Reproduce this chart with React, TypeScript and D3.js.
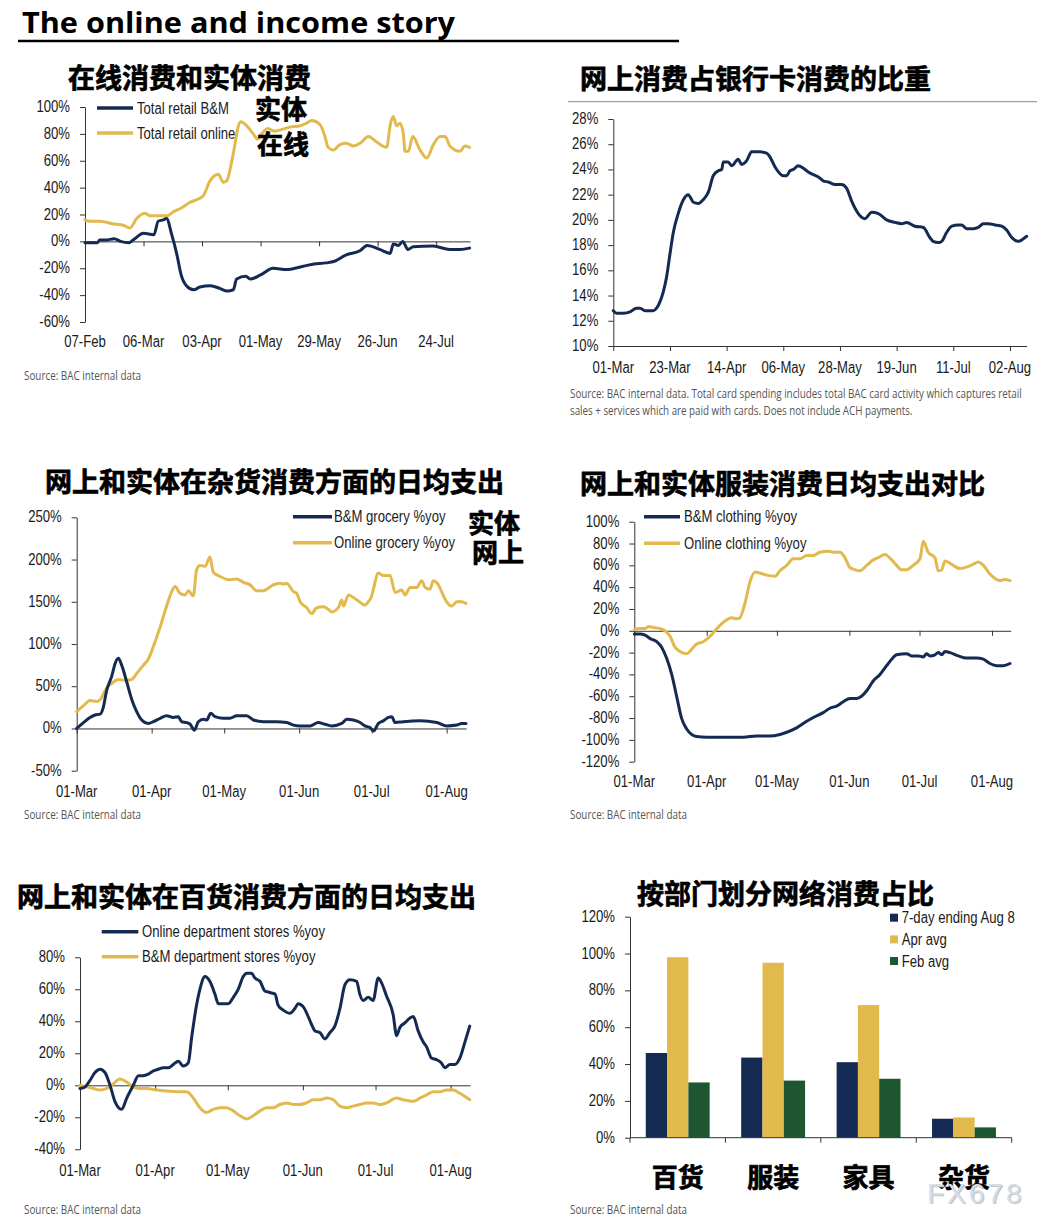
import React, { useEffect, useRef } from 'react';
import * as d3 from 'd3';

type Pt = [number, number];

const NAVY = '#142a52';
const GOLD = '#e1b94c';
const GREEN = '#1f5632';

// ---- panel 1: total retail, days since 07-Feb
const retailDayTicks = [0, 28, 56, 84, 112, 140, 168];
const retailDayLabels = ['07-Feb', '06-Mar', '03-Apr', '01-May', '29-May', '26-Jun', '24-Jul'];
const retailBM: Pt[] = [
  [0, -1], [6, -1], [7, 1], [10, 1], [14, 2], [17, 0], [21, -1], [23, 1], [28, 6], [33, 5], [35, 15],
  [37.5, 16], [39, 17], [41.5, 5], [44, -10], [46, -25], [48.5, -33], [52, -36], [55, -34], [60, -33],
  [64.5, -35], [68, -37], [71, -36], [72.5, -28], [77, -26], [79, -28], [84, -25], [90, -20], [96.5, -21],
  [103, -19], [109, -17], [115.5, -16], [119, -15], [125, -10], [131.5, -7], [135, -3], [141, -6], [146, -9],
  [147.5, -2], [150, -3], [152, 0], [154.5, -6], [157, -4], [166.5, -3.5], [174.5, -6], [179.5, -6], [184, -5]
];
const retailOnline: Pt[] = [
  [0, 16], [2.4, 15], [7.2, 15], [13.6, 13], [18.3, 12], [21.5, 10], [24.7, 17], [28.7, 21], [31.1, 19],
  [34.3, 19], [39.1, 19], [42.3, 22], [46.3, 25], [50.2, 29], [53.4, 31], [56.6, 34], [59.8, 45], [63.8, 50],
  [66.2, 44], [67.8, 45], [70, 58], [71.5, 70], [73.4, 86], [74.5, 89], [77.4, 86], [80.5, 80], [82.5, 76],
  [84.5, 80], [87.5, 84], [90.5, 82], [93.5, 83], [98, 85], [103, 86], [106, 88], [108.5, 90], [112.4, 87],
  [114.8, 78], [116.3, 70], [118.8, 68], [122, 72], [125, 73], [128.4, 71], [131.6, 73], [135.6, 78],
  [139.5, 74], [144.3, 70], [146.2, 88], [147.5, 93], [149.1, 86], [150.7, 88], [152.3, 80], [153.1, 67],
  [154.7, 67], [156.8, 78], [160.3, 68], [163.5, 62], [166.7, 72], [169.9, 78], [172.3, 78], [174.6, 71],
  [179.4, 67], [181.8, 71], [184, 70]
];

// ---- panel 2: online share of card spending, days since 01-Mar
const shareDayTicks = [0, 22, 44, 66, 88, 110, 132, 154];
const shareDayLabels = ['01-Mar', '23-Mar', '14-Apr', '06-May', '28-May', '19-Jun', '11-Jul', '02-Aug'];
const onlineShare: Pt[] = [
  [0, 12.8], [1.3, 12.6], [3.9, 12.6], [6.5, 12.7], [9, 13.0], [10.4, 13.0], [12.3, 12.8], [15.5, 12.8],
  [16.8, 13.0], [18.1, 13.5], [19.4, 14.3], [20.7, 15.5], [22, 17.3], [23.3, 19.0], [25.2, 20.5], [27.2, 21.6],
  [29.1, 22.0], [31.1, 21.4], [33, 21.3], [34.9, 21.6], [36.9, 22.2], [38.8, 23.5], [40.8, 23.9], [42.1, 24.0],
  [42.7, 24.6], [44.6, 24.6], [45.9, 24.3], [48.5, 24.8], [49.8, 24.4], [51.8, 24.7], [53.7, 25.4], [56.9, 25.4],
  [59.5, 25.3], [60.8, 25.0], [62.8, 24.2], [66, 23.5], [67.3, 23.5], [68.6, 23.9], [69.9, 24.0], [71.8, 24.3],
  [73.8, 24.1], [75.7, 23.8], [77.6, 23.6], [79.6, 23.4], [81.5, 23.1], [83.5, 23.0], [86.1, 22.8], [88.6, 22.8],
  [90.6, 22.5], [92.5, 21.5], [95.1, 20.5], [97.7, 20.1], [100.3, 20.6], [102.9, 20.5], [106.1, 20.0],
  [109.4, 19.8], [111.9, 19.7], [113.9, 19.8], [117.1, 19.5], [120.4, 19.4], [122.9, 18.6], [124.2, 18.3],
  [126.2, 18.2], [127.5, 18.3], [129.4, 19.0], [131.4, 19.5], [134, 19.6], [135.2, 19.6], [137.2, 19.3],
  [139.8, 19.3], [141.7, 19.4], [143.7, 19.7], [145.6, 19.7], [148.2, 19.6], [150.8, 19.5], [152.7, 19.2],
  [154.7, 18.6], [157.2, 18.3], [159.2, 18.5], [160.5, 18.7]
];

// ---- panels 3-5: days since 01-Mar
const monthTicks = [0, 31, 61, 92, 122, 153];
const monthLabels = ['01-Mar', '01-Apr', '01-May', '01-Jun', '01-Jul', '01-Aug'];

const groceryBM: Pt[] = [
  [0, 0], [2.8, 7], [5.5, 13], [7.6, 16], [9.7, 17], [11, 25], [12.4, 45], [14.5, 62], [15.9, 77], [17.2, 83],
  [18.6, 75], [20.7, 55], [22.7, 35], [24.8, 20], [26.9, 10], [29.6, 6], [31.7, 8], [34.5, 12], [37.2, 15],
  [40, 13], [42, 14], [43.4, 8], [45.5, 7], [46.9, 5], [48.7, -2], [50.3, 8], [52.4, 11], [53.8, 10], [55.4, 18],
  [57.2, 14], [60.7, 12], [63.4, 12], [66.2, 15], [70.3, 15], [73.1, 10], [77.2, 8], [82.7, 8], [86.9, 7],
  [89.6, 4], [92.4, 3], [96.5, 3], [99.9, 7], [102.7, 5], [105.5, 3], [109.6, 6], [111.7, 11], [114.4, 10],
  [117.2, 7], [119.2, 3], [121.3, 1], [122.7, -3], [124.8, 6], [126.8, 9], [128.9, 13], [130.3, 14], [131.7, 7],
  [135.1, 8], [142, 9], [148.9, 7], [153, 3], [157.2, 4], [159.2, 6], [161, 6]
];
const groceryOnline: Pt[] = [
  [0, 20], [2.8, 27], [5.5, 33], [8.3, 32], [9.7, 34], [12.4, 48], [15.2, 55], [17.2, 58], [20, 57], [22.7, 58],
  [24.8, 65], [27.6, 75], [29.6, 82], [31.7, 97], [34.5, 120], [37.2, 145], [39.3, 162], [40.7, 168], [42.7, 160],
  [44.8, 158], [46.2, 163], [48.2, 157], [49.6, 188], [51, 193], [53.1, 192], [55.1, 203], [56.5, 185],
  [59.3, 180], [63.4, 176], [66.2, 177], [68.9, 173], [71.7, 170], [74.4, 163], [77.2, 163], [78.6, 165],
  [81.3, 170], [84.1, 172], [85.5, 171], [86.8, 172], [89.6, 162], [91, 160], [92.4, 150], [95.1, 143],
  [97.2, 136], [99.3, 143], [102, 144], [104.1, 141], [105.5, 138], [108.2, 143], [109.6, 152], [110.3, 145],
  [112.4, 158], [114.4, 155], [116.5, 151], [119.2, 146], [120.6, 150], [122, 157], [122.7, 165], [124.8, 184],
  [126.8, 181], [129.6, 181], [131.7, 161], [134.4, 164], [135.8, 158], [137.9, 167], [140.6, 167], [142.7, 175],
  [144.1, 167], [146.1, 165], [147.5, 175], [149.6, 170], [150.9, 162], [153, 150], [155.1, 145], [157.2, 150],
  [159.2, 150], [161, 148]
];

const clothingBM: Pt[] = [
  [0, -3], [2.4, -3], [4.6, -4], [6.7, -7], [9.6, -10], [11.7, -15], [13.8, -25], [16, -40], [18.1, -60],
  [20.2, -80], [22.4, -90], [24.5, -95], [26.7, -97], [30.9, -97.5], [40.9, -97.5], [46.6, -97.5], [52.3, -96.5],
  [58, -96.5], [62.3, -95], [65.2, -93], [69.4, -89], [73.7, -83], [78, -78], [80.8, -75], [83.7, -71],
  [86.5, -69], [89.4, -65], [92.2, -62], [95.1, -62], [97.2, -60], [99.4, -55], [102.2, -46], [105.1, -40],
  [107.9, -32], [110.1, -26], [112.2, -22], [116.5, -21], [118.6, -23], [121.5, -23], [123.6, -24], [125, -21],
  [126.5, -23], [128.6, -22], [130, -20], [131.5, -22], [132.9, -19], [135, -20], [138.6, -23], [142.1, -25],
  [146.4, -25], [149.3, -26], [152.1, -30], [155, -32], [157.8, -32], [160.7, -30]
];
const clothingOnline: Pt[] = [
  [0, 1], [2.4, 2], [4.6, 2], [6, 4], [8.1, 3], [11, 2], [13.1, 0], [15.3, -5], [17.4, -15], [19.5, -19],
  [22.4, -21], [24.5, -17], [26.7, -12], [29.5, -10], [32.4, -5], [34.5, 0], [36.6, 5], [39.5, 10], [41.6, 12],
  [43.8, 11], [45.2, 12], [47.3, 25], [49.5, 45], [51.6, 54], [53.7, 53], [56.6, 51], [60.2, 50], [62.3, 55],
  [65.2, 60], [68, 66], [70.9, 66], [73.7, 69], [76.6, 69], [79.4, 72], [83, 73], [85.1, 72], [88, 72],
  [90.1, 67], [92.2, 58], [94.4, 56], [96.5, 55], [99.4, 60], [102.2, 65], [104.4, 67], [107.2, 70], [110.1, 65],
  [112.2, 60], [114.3, 56], [116.5, 56], [119.3, 60], [122.2, 66], [123.6, 82], [125.7, 72], [128.6, 67],
  [130, 55], [131.5, 56], [132.9, 64], [136.4, 60], [139.3, 57], [142.9, 59], [145, 61], [147.1, 63],
  [149.3, 60], [152.1, 52], [154.3, 48], [156.4, 46], [158.5, 47], [160.7, 46]
];

const deptOnline: Pt[] = [
  [0, -2], [2.1, -1], [4.1, 3], [6.2, 8], [8.3, 10], [10.3, 8], [12.4, 0], [14.4, -10], [17.2, -15], [19.3, -8],
  [22, 0], [24.1, 6], [26.1, 6], [28.2, 7], [30.3, 9], [32.3, 10], [34.4, 11], [36.5, 11], [38.5, 13], [40.6, 15],
  [42.6, 12], [44.7, 14], [46.1, 30], [48.1, 50], [49.5, 60], [51.6, 68], [53.6, 65], [55.7, 57], [57.1, 51],
  [59.1, 51], [61.2, 51], [63.3, 55], [65.3, 60], [67.4, 68], [68.8, 70], [70.8, 70], [72.2, 67], [74.3, 65],
  [76.3, 59], [78.4, 58], [80.5, 57], [81.8, 50], [83.9, 47], [86.7, 45], [88.7, 48], [90.1, 51], [92.2, 49],
  [94.2, 43], [95.6, 38], [97, 34], [99, 33], [101.1, 29], [103.2, 33], [105.2, 37], [107.3, 48], [109.4, 63],
  [111.4, 66], [114.2, 65], [115.5, 57], [116.9, 53], [119, 55], [121, 53], [123.1, 67], [124.5, 64],
  [126.5, 56], [129.3, 44], [130.7, 31], [132, 36], [134.1, 39], [136.2, 42], [137.6, 43], [139.6, 34],
  [141.7, 27], [143.1, 24], [145.1, 17], [147.2, 16], [149.2, 14], [150.6, 11], [152.7, 13], [154.7, 13],
  [156.8, 17], [158.9, 27], [160.9, 37]
];
const deptBM: Pt[] = [
  [0, 0], [2.8, -1], [5.5, -2], [8.3, -3], [11, -2], [13.8, 1], [16.5, 4], [19.3, 2], [22, -1], [24.8, -2],
  [27.5, -2], [31.6, -3], [35.8, -3.5], [39.9, -4], [44, -4], [46.8, -8], [49.5, -14], [52.3, -17], [55, -15],
  [57.8, -14], [60.5, -14], [63.3, -16], [66, -19], [68.8, -21], [71.5, -19], [74.3, -16], [77, -14],
  [79.8, -14], [82.5, -12], [85.3, -11], [88, -12], [90.8, -12], [93.5, -11], [96.3, -9], [99, -9], [101.8, -8],
  [104.5, -9], [107.3, -13], [110, -14], [112.8, -13], [115.5, -12], [118.3, -11], [121, -11], [123.8, -12],
  [126.5, -11], [130.7, -8], [133.4, -9], [137.6, -10], [140.3, -8], [143.1, -6], [145.8, -4], [148.6, -4],
  [151.3, -3], [154.1, -3], [156.8, -5], [158.9, -7], [160.9, -9]
];

// ---- panel 6: online share by department
const departments = ['百货', '服装', '家具', '杂货'];
const barSeries = ['7-day ending Aug 8', 'Apr avg', 'Feb avg'];
const barColors = [NAVY, GOLD, GREEN];
const sevenDayShare = [46, 43.5, 41, 10.3];
const aprAvgShare = [98, 95, 72, 11];
const febAvgShare = [30, 31, 32, 5.6];

const SOURCE = 'Source: BAC internal data';
const SOURCE_P2 = [
  'Source: BAC internal data. Total card spending includes total BAC card activity which captures retail',
  'sales + services which are paid with cards. Does not include ACH payments.'
];

type Sel = d3.Selection<any, unknown, null, undefined>;

const NARROW = 'Liberation Sans, Arial, sans-serif';
const CJK = '"Noto Sans CJK SC", sans-serif';

// Arial-Narrow look: regular sans squeezed horizontally
const narrow = (g: Sel, x: number, y: number, s: string, anchor = 'start', size = 16, fill = '#1a1a1a') =>
  g.append('text')
    .attr('transform', `translate(${x},${y}) scale(0.82,1)`)
    .attr('text-anchor', anchor)
    .attr('font-family', NARROW)
    .attr('font-size', size)
    .attr('fill', fill)
    .text(s);

const cjk = (g: Sel, x: number, y: number, s: string, size = 27, anchor = 'start') =>
  g.append('text')
    .attr('x', x).attr('y', y)
    .attr('text-anchor', anchor)
    .attr('font-family', CJK)
    .attr('font-weight', 700)
    .attr('font-size', size)
    .attr('fill', '#000')
    .attr('stroke', '#000')
    .attr('stroke-width', 0.7)
    .text(s);

// condensed source note: measure, then squeeze to the width seen in the picture
const source = (g: Sel, x: number, y: number, s: string, len: number) => {
  const t = g.append('text')
    .attr('transform', `translate(${x},${y})`)
    .attr('font-family', '"Open Sans", sans-serif')
    .attr('font-size', 12.5)
    .attr('fill', '#555')
    .text(s);
  const natural = (t.node() as SVGTextElement).getComputedTextLength() || len;
  t.attr('transform', `translate(${x},${y}) scale(${len / natural},1)`);
};

interface LinePanel {
  title: string; titleX: number; titleY: number;
  xRange: [number, number]; xMax: number;
  yRange: [number, number]; yDomain: [number, number]; yStep: number;
  base: number; xTicks: number[]; xLabels: string[]; labelY: number;
  series: { data: Pt[]; color: string }[];
  legend?: { x0: number; x1: number; ys: number[]; tx: number; labels: string[]; colors: string[] };
  notes?: { x: number; y: number; s: string }[];
}

const drawLinePanel = (svg: Sel, p: LinePanel) => {
  const g = svg.append('g');
  const x = d3.scaleLinear().domain([0, p.xMax]).range(p.xRange);
  const y = d3.scaleLinear().domain(p.yDomain).range(p.yRange);
  const yTicks = d3.range(p.yDomain[0], p.yDomain[1] + p.yStep / 2, p.yStep);

  cjk(g, p.titleX, p.titleY, p.title);

  const yAxis = g.append('g')
    .attr('transform', `translate(${p.xRange[0]},0)`)
    .call(d3.axisLeft(y).tickValues(yTicks).tickSize(5).tickSizeOuter(0).tickFormat(() => ''));
  yAxis.selectAll('path,line').attr('stroke', '#333');
  yTicks.forEach(t => narrow(g, p.xRange[0] - 15, y(t) + 5, `${t}%`, 'end'));

  const xAxis = g.append('g')
    .attr('transform', `translate(0,${y(p.base)})`)
    .call(d3.axisBottom(x).tickValues(p.xTicks).tickSize(5).tickSizeOuter(0).tickFormat(() => ''));
  xAxis.selectAll('path,line').attr('stroke', '#333');
  p.xTicks.forEach((t, i) => narrow(g, x(t), p.labelY, p.xLabels[i], 'middle'));

  const line = d3.line<Pt>().x(d => x(d[0])).y(d => y(d[1])).curve(d3.curveMonotoneX);
  p.series.forEach(s => {
    g.append('path')
      .attr('d', line(s.data))
      .attr('fill', 'none')
      .attr('stroke', s.color)
      .attr('stroke-width', 3)
      .attr('stroke-linejoin', 'round')
      .attr('stroke-linecap', 'round');
  });

  if (p.legend) {
    const L = p.legend;
    L.labels.forEach((lab, i) => {
      g.append('line')
        .attr('x1', L.x0).attr('x2', L.x1).attr('y1', L.ys[i]).attr('y2', L.ys[i])
        .attr('stroke', L.colors[i]).attr('stroke-width', 3.5);
      narrow(g, L.tx, L.ys[i] + 5.5, lab);
    });
  }
  (p.notes || []).forEach(n => cjk(g, n.x, n.y, n.s, 26));
};

const linePanels: LinePanel[] = [
  {
    title: '在线消费和实体消费', titleX: 68, titleY: 88,
    xRange: [85, 470], xMax: 184.2, yRange: [322, 107], yDomain: [-60, 100], yStep: 20,
    base: 0, xTicks: retailDayTicks, xLabels: retailDayLabels, labelY: 347,
    series: [{ data: retailOnline, color: GOLD }, { data: retailBM, color: NAVY }],
    legend: { x0: 97, x1: 133, ys: [108, 133], tx: 137, labels: ['Total retail B&M', 'Total retail online'], colors: [NAVY, GOLD] },
    notes: [{ x: 255, y: 119, s: '实体' }, { x: 257, y: 154, s: '在线' }]
  },
  {
    title: '网上消费占银行卡消费的比重', titleX: 580, titleY: 89,
    xRange: [613.3, 1026.7], xMax: 160.5, yRange: [346, 119], yDomain: [10, 28], yStep: 2,
    base: 10, xTicks: shareDayTicks, xLabels: shareDayLabels, labelY: 373,
    series: [{ data: onlineShare, color: NAVY }]
  },
  {
    title: '网上和实体在杂货消费方面的日均支出', titleX: 45, titleY: 492,
    xRange: [76.7, 466], xMax: 161, yRange: [770.7, 517.3], yDomain: [-50, 250], yStep: 50,
    base: 0, xTicks: monthTicks, xLabels: monthLabels, labelY: 797,
    series: [{ data: groceryOnline, color: GOLD }, { data: groceryBM, color: NAVY }],
    legend: { x0: 293, x1: 332, ys: [516.7, 542.7], tx: 334, labels: ['B&M grocery %yoy', 'Online grocery %yoy'], colors: [NAVY, GOLD] },
    notes: [{ x: 468, y: 533, s: '实体' }, { x: 472, y: 562, s: '网上' }]
  },
  {
    title: '网上和实体服装消费日均支出对比', titleX: 580, titleY: 494,
    xRange: [634.3, 1010.7], xMax: 161, yRange: [761.7, 521.7], yDomain: [-120, 100], yStep: 20,
    base: 0, xTicks: monthTicks, xLabels: monthLabels, labelY: 787,
    series: [{ data: clothingOnline, color: GOLD }, { data: clothingBM, color: NAVY }],
    legend: { x0: 644, x1: 680, ys: [516.7, 543.3], tx: 684, labels: ['B&M clothing %yoy', 'Online clothing %yoy'], colors: [NAVY, GOLD] }
  },
  {
    title: '网上和实体在百货消费方面的日均支出', titleX: 17, titleY: 907,
    xRange: [80, 470], xMax: 161, yRange: [1149.3, 957.3], yDomain: [-40, 80], yStep: 20,
    base: 0, xTicks: monthTicks, xLabels: monthLabels, labelY: 1176,
    series: [{ data: deptBM, color: GOLD }, { data: deptOnline, color: NAVY }],
    legend: { x0: 101.7, x1: 138.3, ys: [931.7, 956.7], tx: 142, labels: ['Online department stores %yoy', 'B&M department stores %yoy'], colors: [NAVY, GOLD] }
  }
];

const drawBarPanel = (svg: Sel) => {
  const g = svg.append('g');
  const x0 = d3.scaleBand<string>().domain(departments).range([630, 1011.7]);
  const x1 = d3.scaleBand<string>().domain(barSeries).range([0, x0.bandwidth()]).paddingOuter(0.74);
  const y = d3.scaleLinear().domain([0, 120]).range([1137.7, 916.7]);
  const values = [sevenDayShare, aprAvgShare, febAvgShare];

  cjk(g, 637, 904, '按部门划分网络消费占比');

  departments.forEach((dep, i) => {
    barSeries.forEach((s, j) => {
      g.append('rect')
        .attr('x', (x0(dep) as number) + (x1(s) as number))
        .attr('y', y(values[j][i]))
        .attr('width', x1.bandwidth())
        .attr('height', y(0) - y(values[j][i]))
        .attr('fill', barColors[j]);
    });
    cjk(g, (x0(dep) as number) + x0.bandwidth() / 2, 1187, dep, 26, 'middle');
  });

  const yTicks = d3.range(0, 121, 20);
  const yAxis = g.append('g')
    .attr('transform', 'translate(630,0)')
    .call(d3.axisLeft(y).tickValues(yTicks).tickSize(5).tickSizeOuter(0).tickFormat(() => ''));
  yAxis.selectAll('path,line').attr('stroke', '#333');
  yTicks.forEach(t => narrow(g, 615, y(t) + 5, `${t}%`, 'end'));

  g.append('line').attr('x1', 630).attr('x2', 1011.7).attr('y1', y(0)).attr('y2', y(0)).attr('stroke', '#333');
  [...departments.map(d => x0(d) as number), 1011.7].forEach(px => {
    g.append('line').attr('x1', px).attr('x2', px).attr('y1', y(0)).attr('y2', y(0) + 5).attr('stroke', '#333');
  });

  barSeries.forEach((s, j) => {
    const cy = 917.7 + j * 21.65;
    g.append('rect').attr('x', 890).attr('y', cy - 4).attr('width', 8).attr('height', 8).attr('fill', barColors[j]);
    narrow(g, 901.7, cy + 5.5, s);
  });

  // watermark
  const wm = (dx: number, fill: string) =>
    g.append('text')
      .attr('x', 927 + dx).attr('y', 1203 + dx)
      .attr('font-family', NARROW).attr('font-size', 28).attr('letter-spacing', 3)
      .attr('fill', fill).text('FX678');
  wm(1.2, '#c9c3bb');
  wm(0, '#d3deec');
};

export default function App() {
  const ref = useRef<SVGSVGElement>(null);

  useEffect(() => {
    if (!ref.current) return;
    const svg = d3.select(ref.current);
    svg.selectAll('*').remove();

    svg.append('rect').attr('width', 1058).attr('height', 1229).attr('fill', '#fff');

    // header
    svg.append('text')
      .attr('x', 22).attr('y', 32.5)
      .attr('font-family', '"Open Sans", sans-serif').attr('font-weight', 700).attr('font-size', 29)
      .attr('textLength', 433).attr('lengthAdjust', 'spacingAndGlyphs')
      .attr('fill', '#000')
      .text('The online and income story');
    svg.append('line').attr('x1', 18).attr('x2', 679).attr('y1', 41).attr('y2', 41)
      .attr('stroke', '#000').attr('stroke-width', 2.5);
    svg.append('line').attr('x1', 568).attr('x2', 1037).attr('y1', 101.7).attr('y2', 101.7)
      .attr('stroke', '#8a8a8a').attr('stroke-width', 1);

    linePanels.forEach(p => drawLinePanel(svg, p));
    drawBarPanel(svg);

    source(svg, 24, 380, SOURCE, 117);
    source(svg, 570, 398, SOURCE_P2[0], 452);
    source(svg, 570, 415, SOURCE_P2[1], 343);
    source(svg, 24, 819, SOURCE, 117);
    source(svg, 570, 819, SOURCE, 117);
    source(svg, 24, 1214, SOURCE, 117);
    source(svg, 570, 1214, SOURCE, 117);
  }, []);

  return (
    <svg ref={ref} width={1058} height={1229}
      style={{ position: 'absolute', left: 0, top: 0, display: 'block' }} />
  );
}
